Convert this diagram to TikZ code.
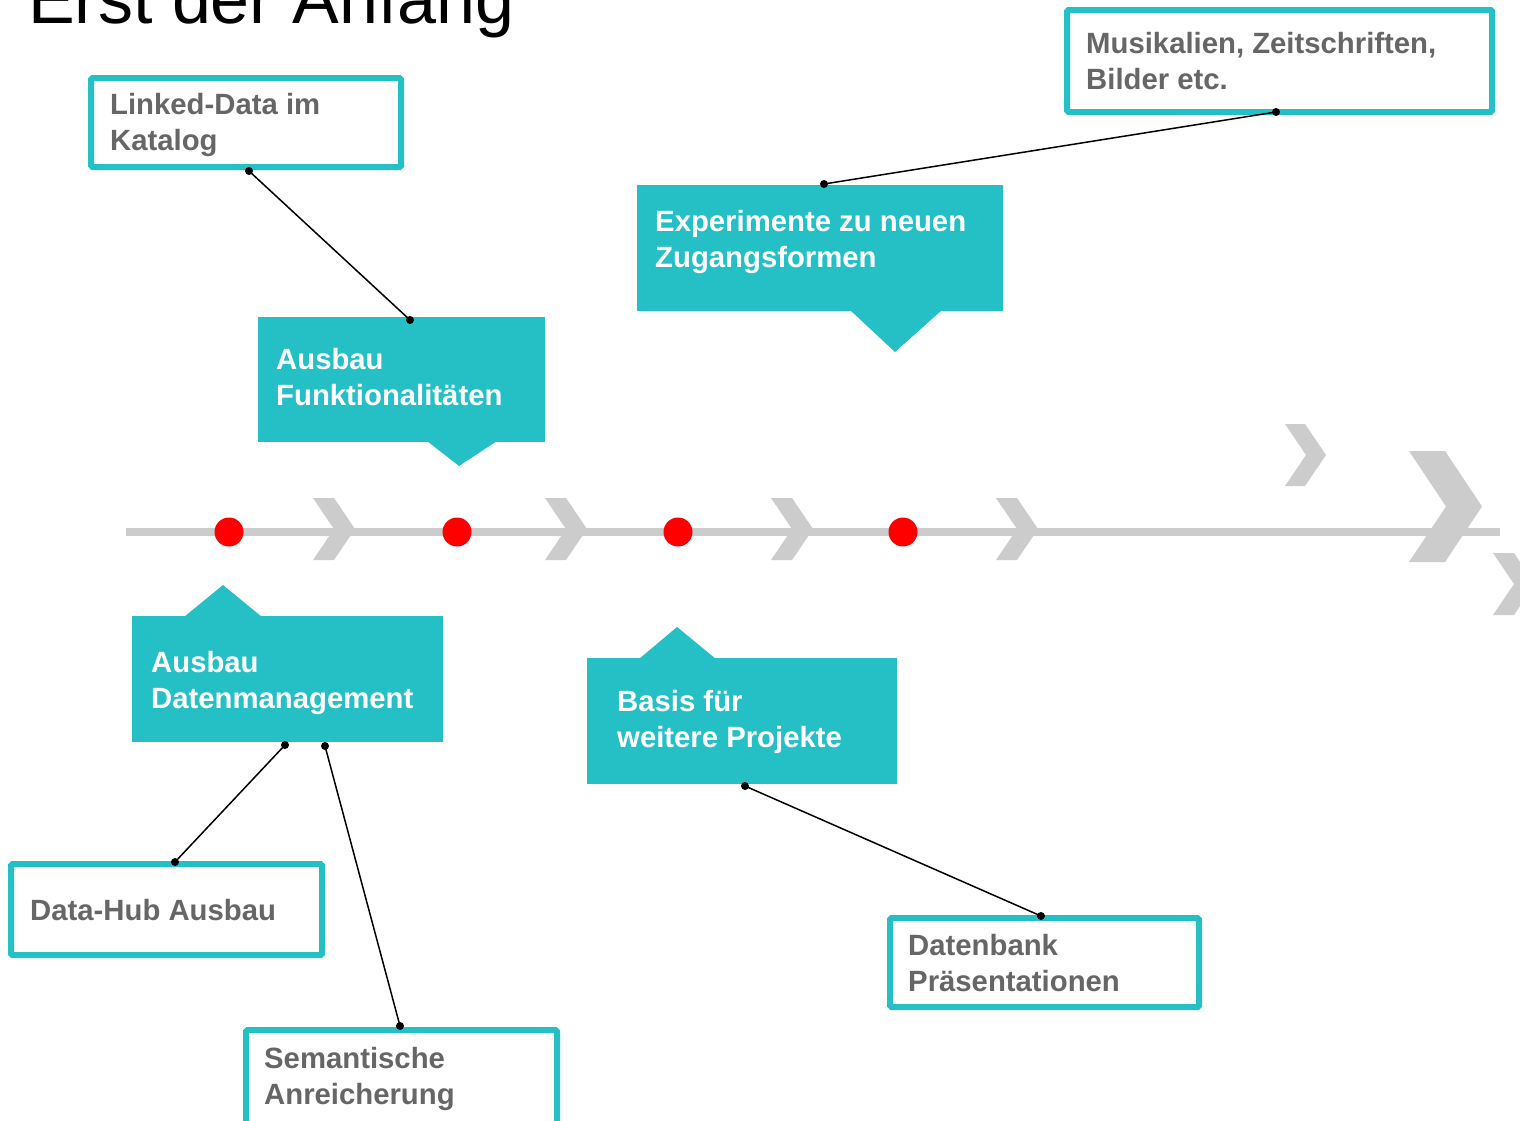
\documentclass[tikz,border=0pt]{standalone}
\usepackage{fontspec}
\setmainfont{Liberation Sans}
\definecolor{tealc}{RGB}{37,192,197}
\definecolor{txtgray}{RGB}{102,102,102}
\definecolor{linegray}{RGB}{204,204,204}
\newcommand\twoline[2]{\vtop{\hbox{#1}\hbox{#2}}}
\newcommand\mychev[5]{\fill[linegray] (#1,#2) -- ({#1+#3},#2) -- ({#1+#4},{#2+#5/2}) -- ({#1+#3},{#2+#5}) -- (#1,{#2+#5}) -- ({#1+#4-#3},{#2+#5/2}) -- cycle;}
\begin{document}
\begin{tikzpicture}[x=1pt,y=-1pt,
  obox/.style={draw=tealc, line width=6pt, fill=white, rounded corners=1.5pt, inner sep=0pt},
  fbox/.style={fill=tealc, inner sep=0pt, outer sep=0pt},
  otext/.style={anchor=base west, inner sep=0pt, text=txtgray, font=\fontsize{29.3}{36}\selectfont\bfseries},
  ftext/.style={anchor=base west, inner sep=0pt, text=white, font=\fontsize{29.3}{36}\selectfont\bfseries},
  conn/.style={black, line width=1.5pt},
  cdot/.style={black},
  reddot/.style={circle, fill=red, inner sep=0pt, minimum size=29pt}
]
\useasboundingbox (0,0) rectangle (1520,1120);
\fill[white] (0,0) rectangle (1520,1120);

% title
\node[anchor=base west, inner sep=0pt, font=\fontsize{70}{80}\selectfont] (title) at (28,23) {Erst der Anfang};

% timeline
\coordinate (tl0) at (126,532);
\coordinate (tl1) at (1500,532);
\draw[linegray, line width=8pt] (tl0) -- (tl1);
\mychev{313}{498}{21}{42}{62}
\mychev{545}{498}{21}{42}{62}
\mychev{771}{498}{21}{42}{62}
\mychev{996}{498}{21}{42}{62}
\mychev{1285}{424}{20}{41}{62}
\mychev{1409}{451}{36}{73}{111}
\mychev{1493}{553}{21}{42}{62}
\node[reddot] (r1) at (229,532) {};
\node[reddot] (r2) at (457,532) {};
\node[reddot] (r3) at (678,532) {};
\node[reddot] (r4) at (903,532) {};

% filled callouts
\node[fbox, minimum width=287pt, minimum height=125pt] (F) at (401.5,379.5) {};
\fill[tealc] (427,441) -- (459,466) -- (497,441) -- cycle;
\node[ftext] (Ft) at (276,369) {\twoline{Ausbau}{Funktionalitäten}};

\node[fbox, minimum width=366pt, minimum height=126pt] (X) at (820,248) {};
\fill[tealc] (850,310) -- (895,352) -- (942,310) -- cycle;
\node[ftext] (Xt) at (655,231) {\twoline{Experimente zu neuen}{Zugangsformen}};

\node[fbox, minimum width=311pt, minimum height=126pt] (M) at (287.5,679) {};
\fill[tealc] (184,617) -- (223,585) -- (262,617) -- cycle;
\node[ftext] (Mt) at (151,672) {\twoline{Ausbau}{Datenmanagement}};

\node[fbox, minimum width=310pt, minimum height=126pt] (P) at (742,721) {};
\fill[tealc] (639,659) -- (677,627) -- (716,659) -- cycle;
\node[ftext] (Pt) at (617,711) {\twoline{Basis für}{weitere Projekte}};

% outlined boxes
\node[obox, minimum width=310pt, minimum height=89pt] (A) at (246,122.5) {};
\node[otext] (At) at (110,114) {\twoline{Linked-Data im}{Katalog}};

\node[obox, minimum width=425pt, minimum height=102pt] (B) at (1279.5,61) {};
\node[otext] (Bt) at (1086,53) {\twoline{Musikalien, Zeitschriften,}{Bilder etc.}};

\node[obox, minimum width=311pt, minimum height=91pt] (C) at (166.5,909.5) {};
\node[otext] (Ct) at (30,920) {Data-Hub Ausbau};

\node[obox, minimum width=311pt, minimum height=95pt] (D) at (401.5,1077.5) {};
\node[otext] (Dt) at (264,1068) {\twoline{Semantische}{Anreicherung}};

\node[obox, minimum width=309pt, minimum height=89pt] (E) at (1044.5,962.5) {};
\node[otext] (Et) at (908,955) {\twoline{Datenbank}{Präsentationen}};

% connectors
\coordinate (a1) at ([xshift=3pt,yshift=-1pt]A.south);
\coordinate (f1) at ([xshift=8.5pt,yshift=-3pt]F.north);
\coordinate (b1) at ([xshift=-3.5pt,yshift=3pt]B.south);
\coordinate (x1) at ([xshift=4pt,yshift=1pt]X.north);
\coordinate (m1) at ([xshift=-2.5pt,yshift=-3pt]M.south);
\coordinate (m2) at ([xshift=37.5pt,yshift=-4pt]M.south);
\coordinate (c1) at ([xshift=8.5pt,yshift=-1pt]C.north);
\coordinate (d1) at ([xshift=-1.5pt,yshift=1pt]D.north);
\coordinate (p1) at ([xshift=3pt,yshift=-2pt]P.south);
\coordinate (e1) at ([xshift=-3.5pt,yshift=-1pt]E.north);

\draw[conn] (a1) -- (f1);
\draw[conn] (b1) -- (x1);
\draw[conn] (m1) -- (c1);
\draw[conn] (m2) -- (d1);
\draw[conn] (p1) -- (e1);
\foreach \p in {a1,f1,b1,x1,m1,m2,c1,d1,p1,e1} \fill[cdot] (\p) circle (4);
\end{tikzpicture}
\end{document}
